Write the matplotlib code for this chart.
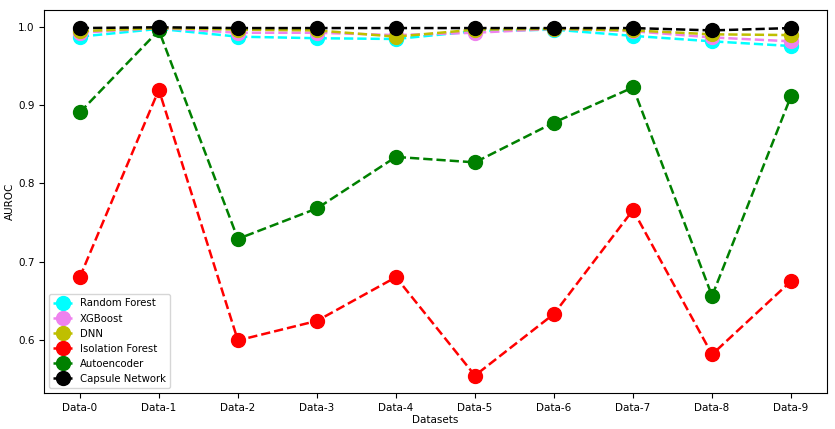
import matplotlib
matplotlib.use("Agg")
import matplotlib.pyplot as plt

datasets = ["Data-%d" % i for i in range(10)]

random_forest = [0.988, 0.998, 0.988, 0.986, 0.985, 0.995, 0.997, 0.989, 0.982, 0.976]
xgboost = [0.993, 0.999, 0.993, 0.993, 0.990, 0.993, 0.998, 0.995, 0.987, 0.982]
dnn = [0.995, 0.999, 0.997, 0.996, 0.988, 0.997, 0.998, 0.996, 0.991, 0.990]
isolation_forest = [0.680, 0.920, 0.599, 0.624, 0.680, 0.554, 0.633, 0.766, 0.581, 0.675]
autoencoder = [0.891, 0.996, 0.729, 0.768, 0.834, 0.827, 0.878, 0.923, 0.656, 0.912]
capsule = [0.999, 1.000, 0.999, 0.999, 0.999, 0.999, 0.999, 0.999, 0.996, 0.999]

fig = plt.figure(figsize=(8.35, 4.29), dpi=100)
ax = fig.add_axes([0.053, 0.084, 0.937, 0.893])

series = [
    (random_forest, "Random Forest", "cyan"),
    (xgboost, "XGBoost", "violet"),
    (dnn, "DNN", "y"),
    (isolation_forest, "Isolation Forest", "r"),
    (autoencoder, "Autoencoder", "g"),
    (capsule, "Capsule Network", "k"),
]
for vals, name, col in series:
    ax.plot(datasets, vals, linestyle="--", marker="o", color=col,
            markersize=10, linewidth=1.8, label=name)

ax.set_xlabel("Datasets", fontsize=7.5, labelpad=2)
ax.set_ylabel("AUROC", fontsize=7.5, labelpad=2)
ax.tick_params(labelsize=7.5)
ax.legend(loc="lower left", fontsize=7.3, handlelength=1.8, labelspacing=0.5)
fig.savefig("out.png", dpi=100)
